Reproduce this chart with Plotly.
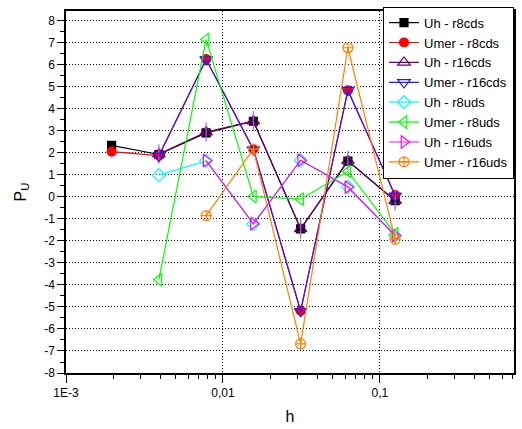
import plotly.graph_objects as go

# grid spacings h = 1/512 ... 1/8
h_all = [1/512, 1/256, 1/128, 1/64, 1/32, 1/16, 1/8]
h_from256 = h_all[1:]
h_from128 = h_all[2:]

uh_r8cds = [2.34, 1.93, 2.91, 3.44, -1.45, 1.63, -0.17]
umer_r8cds = [2.06, 1.88, 6.26, 2.17, -5.17, 4.84, 0.08]
uh_r16cds = [1.95, 2.95, 3.45, -1.45, 1.65, -0.17]
umer_r16cds = [1.86, 6.25, 2.15, -5.2, 4.85, 0.05]
uh_r8uds = [0.99, 1.64, -1.23, 1.66, 0.46, -1.76]
umer_r8uds = [-3.76, 7.16, 0.02, -0.1, 1.16, -1.68]
uh_r16uds = [1.65, -1.22, 1.67, 0.45, -1.75]
umer_r16uds = [-0.85, 2.17, -6.68, 6.78, -1.92]

y_ticks = list(range(-8, 9))
y_ticktext = [str(v) for v in y_ticks]
x_ticks = [0.001, 0.01, 0.1]
x_ticktext = ["1E-3", "0,01", "0,1"]
x_minor = [m * d for d in (0.001, 0.01, 0.1) for m in range(2, 10)]

series = [
    ("Uh - r8cds", h_all, uh_r8cds, "#000000", "square", 8),
    ("Umer - r8cds", h_all, umer_r8cds, "#ff0000", "circle", 9),
    ("Uh - r16cds", h_from256, uh_r16cds, "#6e006e", "triangle-up-open", 11),
    ("Umer - r16cds", h_from256, umer_r16cds, "#2a1aff", "triangle-down-open", 11),
    ("Uh - r8uds", h_from256, uh_r8uds, "#00ffff", "diamond-open", 10),
    ("Umer - r8uds", h_from256, umer_r8uds, "#00ff00", "triangle-left-open", 11),
    ("Uh - r16uds", h_from128, uh_r16uds, "#ff00ff", "triangle-right-open", 11),
    ("Umer - r16uds", h_from128, umer_r16uds, "#ff8000", "circle-cross-open", 10),
]

fig = go.Figure()
for name, x, y, color, symbol, size in series:
    fig.add_trace(go.Scatter(
        x=x, y=y, name=name, mode="lines+markers",
        line=dict(color=color, width=1.2),
        marker=dict(symbol=symbol, size=size, color=color,
                    line=dict(color=color, width=1.2)),
        legendgroup=name,
    ))
    if name == "Uh - r16cds":
        # vertical stroke through the triangle markers
        fig.add_trace(go.Scatter(
            x=x, y=y, mode="markers", showlegend=False, legendgroup=name,
            marker=dict(symbol="line-ns-open", size=14,
                        line=dict(color=color, width=1.2)),
            hoverinfo="skip",
        ))

axis_font = dict(family="Liberation Sans, Arial, sans-serif", size=12, color="black")

fig.update_layout(
    width=522, height=429,
    margin=dict(l=66, r=6, t=11, b=54),
    paper_bgcolor="white", plot_bgcolor="white",
    font=axis_font,
    showlegend=True,
    legend=dict(
        x=1.0, xanchor="right", y=1.012, yanchor="top",
        bgcolor="white", bordercolor="black", borderwidth=1,
        font=dict(family="Liberation Sans, Arial, sans-serif", size=13, color="black"),
        itemwidth=30, tracegroupgap=0,
    ),
    xaxis=dict(
        type="log", range=[-3, -0.146],
        tickmode="array", tickvals=x_ticks, ticktext=x_ticktext,
        ticks="outside", ticklen=8, tickwidth=1, tickcolor="black",
        minor=dict(tickvals=x_minor, ticks="outside", ticklen=4,
                   tickwidth=1, tickcolor="black", showgrid=False),
        showline=True, linecolor="black", linewidth=1.5, mirror=True,
        showgrid=True, gridcolor="black", griddash="1px,2px", gridwidth=1,
        zeroline=False, tickfont=axis_font,
        title=dict(text="h", font=dict(family="Liberation Sans, Arial, sans-serif",
                                       size=16, color="black"), standoff=12),
    ),
    yaxis=dict(
        range=[-8, 8.45],
        tickmode="array", tickvals=y_ticks, ticktext=y_ticktext,
        ticks="outside", ticklen=7, tickwidth=1, tickcolor="black",
        minor=dict(dtick=0.5, tick0=0, ticks="outside", ticklen=4,
                   tickwidth=1, tickcolor="black", showgrid=False),
        showline=True, linecolor="black", linewidth=1.5, mirror=True,
        showgrid=True, gridcolor="black", griddash="1px,2px", gridwidth=1,
        zeroline=False, tickfont=axis_font,
        title=dict(text="P<sub>U</sub>", font=dict(family="Liberation Sans, Arial, sans-serif",
                                                 size=16, color="black"), standoff=14),
    ),
)

fig.write_html("out.html")
